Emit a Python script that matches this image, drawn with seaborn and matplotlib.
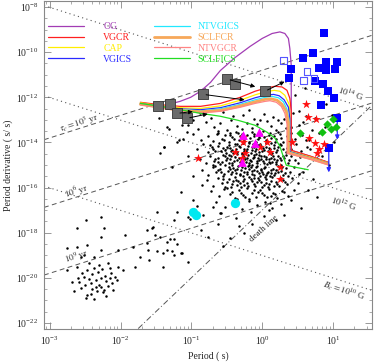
import numpy as np
import pandas as pd
import seaborn as sns
import matplotlib.pyplot as plt
from matplotlib.ticker import FixedLocator, LogLocator, LogFormatterMathtext, NullFormatter

sns.set_style("ticks")
plt.rcParams["font.family"] = ["Liberation Serif", "DejaVu Serif"]
plt.rcParams["mathtext.fontset"] = "stix"

# ---- model boundary curves, (log10 P, log10 Pdot) ----
og_lp = [-1.32, -1.16, -1.01, -0.87, -0.73, -0.59, -0.38, -0.17, 0.00, 0.14, 0.25, 0.32, 0.37, 0.39, 0.41, 0.41, 0.68, 0.93]
og_lpd = [-12.31, -12.18, -12.00, -11.73, -11.34, -10.81, -10.23, -9.74, -9.39, -9.17, -9.10, -9.17, -9.39, -9.83, -10.58, -14.35, -14.61, -14.88]

vgcr_lp = [-1.72, -1.44, -1.16, -0.87, -0.59, -0.31, -0.10, 0.04, 0.18, 0.28, 0.35, 0.39, 0.41, 0.41, 0.68, 0.93]
vgcr_lpd = [-12.22, -12.33, -12.40, -12.40, -12.27, -12.00, -11.73, -11.60, -11.51, -11.54, -11.69, -12.04, -12.58, -14.35, -14.61, -14.88]

cap_lp = [-1.72, -1.44, -1.16, -0.87, -0.59, -0.31, -0.10, 0.04, 0.17, 0.25, 0.32, 0.38, 0.39, 0.39, 0.68, 0.93]
cap_lpd = [-12.24, -12.38, -12.46, -12.49, -12.38, -12.13, -11.89, -11.76, -11.69, -11.73, -11.91, -12.31, -12.80, -14.39, -14.65, -14.90]

vgics_lp = [-1.72, -1.44, -1.16, -0.87, -0.59, -0.31, -0.10, 0.04, 0.16, 0.24, 0.31, 0.37, 0.39, 0.39, 0.68, 0.93]
vgics_lpd = [-12.27, -12.40, -12.51, -12.55, -12.46, -12.24, -12.02, -11.91, -11.87, -11.93, -12.11, -12.44, -12.93, -14.41, -14.68, -14.92]

ntvgics_lp = [-1.72, -1.44, -1.16, -0.87, -0.59, -0.31, -0.10, 0.04, 0.14, 0.23, 0.30, 0.35, 0.38, 0.38, 0.68, 0.93]
ntvgics_lpd = [-12.29, -12.42, -12.53, -12.60, -12.51, -12.31, -12.11, -12.00, -11.96, -12.02, -12.20, -12.53, -13.02, -14.43, -14.70, -14.94]

sclfcr_lp = [-1.72, -1.44, -1.16, -0.87, -0.59, -0.31, -0.10, 0.04, 0.13, 0.21, 0.28, 0.34, 0.37, 0.37, 0.68, 0.93]
sclfcr_lpd = [-12.31, -12.44, -12.58, -12.64, -12.58, -12.38, -12.20, -12.09, -12.07, -12.13, -12.31, -12.62, -13.11, -14.46, -14.72, -14.96]

ntvgcr_lp = [-1.72, -1.44, -1.16, -0.87, -0.59, -0.31, -0.10, 0.04, 0.11, 0.20, 0.27, 0.32, 0.35, 0.35, 0.68, 0.93]
ntvgcr_lpd = [-12.33, -12.46, -12.60, -12.69, -12.62, -12.44, -12.27, -12.18, -12.15, -12.22, -12.40, -12.71, -13.19, -14.48, -14.74, -14.99]

sclfics_lp = [-1.72, -1.44, -1.16, -0.87, -0.59, -0.34, -0.10, 0.07, 0.18, 0.25, 0.30, 0.34, 0.47, 0.65]
sclfics_lpd = [-12.27, -12.40, -12.55, -12.71, -12.84, -13.02, -13.24, -13.55, -13.81, -14.17, -14.65, -15.01, -15.10, -15.21]

# ---- pulsar population (log10 P, log10 Pdot) ----
psr_young = [(-1.45, -12.9), (-1.32, -13.4), (-1.25, -12.7), (-1.18, -13.9), (-1.38, -14.2), (-1.05, -14.6),
             (-1.28, -15.1), (-0.97, -15.5), (-1.15, -16.2), (-0.92, -16.8), (-1.02, -17.4), (-1.34, -13.33),
             (-1.13, -13.24), (-1.06, -13.55), (-1.39, -14.21), (-1.20, -13.99), (-1.44, -14.48),
             (-1.10, -12.62), (-0.88, -12.71), (-0.72, -12.93), (-0.55, -12.66), (-0.41, -12.85), (-0.27, -12.78),
             (-0.12, -12.97), (0.02, -12.74), (0.15, -12.88), (0.31, -12.95), (-0.98, -12.99), (-0.19, -12.58)]
psr_core1 = [(-1.05, -13.21), (-0.91, -13.42), (-0.80, -13.08), (-0.68, -13.33), (-0.59, -13.15), (-0.50, -13.46),
             (-0.44, -13.02), (-0.36, -13.27), (-0.29, -13.41), (-0.21, -13.12), (-0.14, -13.35), (-0.07, -13.19),
             (0.01, -13.48), (0.07, -13.06), (0.13, -13.29), (0.19, -13.44), (0.26, -13.13), (0.33, -13.38),
             (-0.62, -13.49), (-0.03, -13.01), (0.23, -13.02),
             (-0.98, -13.62), (-0.86, -13.88), (-0.77, -13.71), (-0.70, -13.95), (-0.63, -13.57), (-0.57, -13.83),
             (-0.52, -13.66), (-0.47, -13.97), (-0.42, -13.74), (-0.37, -13.52), (-0.33, -13.89), (-0.28, -13.63),
             (-0.24, -13.79), (-0.19, -13.98), (-0.15, -13.55), (-0.11, -13.72), (-0.06, -13.86), (-0.02, -13.61),
             (0.03, -13.77), (0.07, -13.93), (0.11, -13.58), (0.16, -13.70), (0.20, -13.85), (0.25, -13.64),
             (0.30, -13.96), (0.35, -13.73), (-0.45, -13.58), (-0.09, -13.99), (0.13, -13.81), (-0.31, -13.71),
             (-1.12, -13.85), (0.22, -13.52)]
psr_core2 = [(-0.92, -14.31), (-0.84, -14.08), (-0.76, -14.44), (-0.71, -14.19), (-0.66, -14.37), (-0.61, -14.03),
             (-0.56, -14.26), (-0.51, -14.48), (-0.47, -14.12), (-0.43, -14.33), (-0.39, -14.05), (-0.35, -14.41),
             (-0.31, -14.22), (-0.27, -14.01), (-0.23, -14.36), (-0.20, -14.17), (-0.16, -14.46), (-0.13, -14.09),
             (-0.09, -14.29), (-0.05, -14.43), (-0.01, -14.14), (0.03, -14.32), (0.06, -14.02), (0.10, -14.24),
             (0.14, -14.47), (0.17, -14.11), (0.21, -14.35), (0.25, -14.06), (0.29, -14.28), (0.33, -14.42),
             (-0.49, -14.21), (-0.29, -14.45), (-0.11, -14.19), (0.08, -14.39), (0.23, -14.18), (-0.37, -14.27),
             (-0.18, -14.04), (0.01, -14.23), (-0.58, -14.40), (-0.74, -14.12), (0.12, -14.03), (-0.06, -14.12),
             (-0.25, -14.27), (-0.44, -14.39),
             (-0.88, -14.72), (-0.79, -14.93), (-0.73, -14.58), (-0.68, -14.81), (-0.63, -14.67), (-0.59, -14.97),
             (-0.55, -14.54), (-0.51, -14.76), (-0.47, -14.89), (-0.44, -14.61), (-0.40, -14.83), (-0.36, -14.52),
             (-0.33, -14.71), (-0.30, -14.95), (-0.26, -14.64), (-0.23, -14.86), (-0.20, -14.55), (-0.17, -14.77),
             (-0.14, -14.98), (-0.11, -14.63), (-0.08, -14.82), (-0.04, -14.57), (-0.01, -14.74), (0.02, -14.91),
             (0.05, -14.66), (0.09, -14.85), (0.12, -14.53), (0.16, -14.72), (0.19, -14.94), (0.23, -14.61),
             (0.27, -14.80), (0.31, -14.69), (-0.42, -14.99), (-0.28, -14.51), (-0.13, -14.70), (0.03, -14.59),
             (0.14, -14.88), (-0.52, -14.62), (-0.35, -14.78), (-0.19, -14.91), (-0.06, -14.68), (0.21, -14.79),
             (0.07, -14.97), (-0.62, -14.87), (-0.24, -14.73), (-0.09, -14.53), (-0.45, -14.74), (0.26, -14.99),
             (-0.70, -14.99), (0.10, -14.75)]
psr_core3 = [(-0.85, -15.21), (-0.76, -15.44), (-0.70, -15.08), (-0.65, -15.33), (-0.60, -15.17), (-0.56, -15.47),
             (-0.52, -15.02), (-0.48, -15.28), (-0.44, -15.41), (-0.41, -15.12), (-0.37, -15.36), (-0.34, -15.05),
             (-0.30, -15.23), (-0.27, -15.49), (-0.24, -15.14), (-0.21, -15.31), (-0.18, -15.01), (-0.15, -15.26),
             (-0.12, -15.45), (-0.09, -15.11), (-0.05, -15.34), (-0.02, -15.19), (0.01, -15.42), (0.04, -15.07),
             (0.08, -15.29), (0.11, -15.48), (0.15, -15.16), (0.18, -15.37), (0.22, -15.03), (0.26, -15.25),
             (0.30, -15.43), (0.34, -15.13), (0.39, -15.32), (0.45, -15.09), (0.52, -15.40), (-0.46, -15.19),
             (-0.32, -15.38), (-0.16, -15.08), (-0.01, -15.24), (0.13, -15.35), (-0.58, -15.31), (-0.39, -15.24),
             (-0.22, -15.42), (-0.07, -15.04), (0.06, -15.44), (0.20, -15.21), (-0.28, -15.09), (0.36, -15.47),
             (-0.11, -15.22), (-0.66, -15.03),
             (-0.78, -15.68), (-0.69, -15.91), (-0.62, -15.57), (-0.57, -15.79), (-0.52, -15.96), (-0.47, -15.63),
             (-0.43, -15.85), (-0.38, -15.54), (-0.34, -15.73), (-0.30, -15.98), (-0.26, -15.61), (-0.22, -15.82),
             (-0.18, -15.52), (-0.14, -15.71), (-0.10, -15.93), (-0.06, -15.59), (-0.02, -15.77), (0.02, -15.89),
             (0.06, -15.64), (0.10, -15.83), (0.14, -15.55), (0.19, -15.74), (0.24, -15.95), (0.29, -15.66),
             (0.35, -15.86), (0.42, -15.58), (0.50, -15.80), (-0.41, -15.70), (-0.25, -15.90), (-0.08, -15.75),
             (0.08, -15.97), (-0.55, -15.62), (-0.12, -15.56), (0.17, -15.91), (-0.35, -15.88), (0.04, -15.52)]
psr_core4 = [(-0.72, -16.15), (-0.61, -16.38), (-0.54, -16.07), (-0.46, -16.29), (-0.39, -16.45), (-0.33, -16.11),
             (-0.27, -16.33), (-0.21, -16.02), (-0.15, -16.24), (-0.09, -16.41), (-0.03, -16.13), (0.03, -16.31),
             (0.09, -16.05), (0.15, -16.22), (0.21, -16.47), (0.28, -16.16), (0.36, -16.36), (0.45, -16.09),
             (-0.49, -16.02), (-0.18, -16.49), (0.12, -16.39), (-0.06, -16.20),
             (-0.65, -16.62), (-0.52, -16.88), (-0.41, -16.71), (-0.29, -16.94), (-0.19, -16.58), (-0.08, -16.79),
             (0.04, -16.66), (0.14, -16.91), (0.27, -16.74), (0.40, -16.55), (-0.35, -16.52), (0.09, -16.99),
             (-0.58, -17.12), (-0.37, -17.35), (-0.16, -17.08), (0.02, -17.27), (0.19, -17.44), (-0.84, -17.22)]
psr_core5 = [(-0.64, -13.62), (-0.54, -13.91), (-0.46, -13.69), (-0.40, -13.86), (-0.34, -13.60), (-0.26, -13.93),
             (-0.22, -13.67), (-0.17, -13.82), (-0.12, -13.64), (-0.04, -13.76), (0.05, -13.88), (0.09, -13.66),
             (0.18, -13.97), (0.27, -13.80), (0.38, -13.90), (-0.69, -14.27), (-0.63, -14.14), (-0.53, -14.35),
             (-0.45, -14.25), (-0.41, -14.46), (-0.33, -14.15), (-0.26, -14.39), (-0.21, -14.28), (-0.14, -14.21),
             (-0.10, -14.40), (-0.03, -14.07), (0.00, -14.37), (0.05, -14.18), (0.11, -14.31), (0.16, -14.26),
             (0.19, -14.44), (0.27, -14.13), (0.35, -14.24), (-0.36, -14.09), (-0.15, -14.33),
             (-0.66, -14.74), (-0.57, -14.85), (-0.49, -14.68), (-0.43, -14.92), (-0.38, -14.66), (-0.32, -14.88),
             (-0.27, -14.57), (-0.22, -14.69), (-0.16, -14.84), (-0.12, -14.56), (-0.07, -14.93), (-0.02, -14.62),
             (0.01, -14.83), (0.06, -14.73), (0.11, -14.93), (0.15, -14.60), (0.20, -14.87), (0.25, -14.70),
             (0.29, -14.58), (0.38, -14.80), (-0.47, -14.56), (-0.29, -14.81), (-0.05, -14.79), (0.13, -14.68),
             (-0.62, -15.23), (-0.54, -15.38), (-0.47, -15.10), (-0.42, -15.32), (-0.36, -15.18), (-0.31, -15.44),
             (-0.25, -15.30), (-0.19, -15.17), (-0.14, -15.38), (-0.08, -15.27), (-0.03, -15.47), (0.02, -15.14),
             (0.07, -15.36), (0.12, -15.24), (0.17, -15.45), (0.23, -15.33), (0.28, -15.10), (0.32, -15.36),
             (-0.20, -15.05), (0.00, -15.31), (-0.50, -15.74), (-0.44, -15.97), (-0.37, -15.65), (-0.32, -15.80),
             (-0.27, -15.73), (-0.20, -15.95), (-0.16, -15.63), (-0.11, -15.84), (-0.04, -15.68), (0.00, -15.98),
             (0.05, -15.79), (0.12, -15.70), (0.21, -15.86), (0.26, -15.57), (0.32, -15.75), (-0.42, -16.18),
             (-0.30, -16.24), (-0.24, -16.40), (-0.12, -16.12), (0.00, -16.22), (0.07, -16.44), (0.18, -16.30),
             (0.31, -16.20)]
psr_longp = [(0.46, -11.9), (0.52, -12.6), (0.58, -13.1), (0.62, -13.9), (0.68, -14.3), (0.74, -12.9),
             (0.80, -13.6), (0.85, -14.6), (0.90, -12.3), (0.95, -15.0), (0.50, -14.9), (0.57, -15.3),
             (0.72, -15.6), (0.88, -13.3), (1.02, -14.0), (0.64, -16.1), (0.78, -16.4), (0.55, -16.9),
             (0.60, -11.6), (0.98, -12.8), (0.40, -13.31), (0.47, -13.84), (0.56, -13.67), (0.66, -13.91),
             (0.41, -14.31), (0.48, -14.07), (0.55, -14.38), (0.63, -14.21), (0.45, -14.46), (0.36, -14.92),
             (0.41, -14.58), (0.47, -14.78), (0.53, -14.65), (0.33, -14.56), (0.44, -12.69), (0.62, -12.81),
             (0.52, -13.22), (0.71, -13.45), (0.41, -13.59)]
psr_sparse = [(-0.85, -15.9), (-0.97, -16.56), (-0.69, -16.87), (-0.59, -17.13), (-0.45, -18.24), (-0.87, -17.88),
              (-0.77, -18.19), (0.11, -16.69), (-1.13, -18.9), (-0.62, -17.6), (-0.33, -17.7), (-1.05, -17.3),
              (-0.25, -18.0), (-0.55, -18.6), (-1.30, -18.3), (-1.20, -17.1), (0.31, -17.2), (-0.15, -17.6),
              (-1.55, -17.8), (-1.52, -18.1), (-1.48, -18.8), (-1.40, -18.9), (-1.40, -19.5), (-1.27, -18.8),
              (-1.25, -18.3), (-1.20, -18.5), (-1.15, -18.9), (-1.35, -18.4), (-1.60, -19.2), (-1.05, -19.3)]
psr_msp = [(-2.75, -19.65), (-2.61, -19.52), (-2.47, -19.65), (-2.32, -19.74), (-2.52, -19.96), (-2.28, -20.01),
           (-2.42, -20.23), (-2.56, -20.45), (-2.28, -20.41), (-2.47, -20.76), (-2.24, -20.54), (-2.68, -20.19),
           (-2.14, -19.79), (-2.17, -19.35), (-2.38, -19.08), (-2.56, -19.08), (-2.75, -18.68), (-2.61, -18.64),
           (-2.47, -18.55), (-2.28, -18.77), (-2.04, -18.77), (-1.82, -18.64), (-1.62, -18.46), (-1.44, -18.19),
           (-1.54, -17.75), (-1.62, -17.88), (-1.25, -17.44), (-1.48, -17.09), (-2.04, -19.52), (-1.96, -19.65),
           (-2.10, -20.54), (-2.49, -20.89), (-2.52, -18.99), (-2.24, -17.80), (-1.93, -18.11), (-2.28, -18.19),
           (-2.61, -17.80), (-2.49, -17.44), (-2.28, -17.31), (-1.79, -19.52), (-1.72, -19.08), (-1.61, -18.77),
           (-1.34, -18.77), (-1.25, -18.99), (-2.40, -19.85), (-2.35, -20.10), (-2.20, -20.15), (-2.30, -20.30),
           (-2.45, -20.05), (-2.22, -19.90), (-2.18, -20.35), (-2.33, -20.60), (-2.40, -20.48), (-2.15, -20.02),
           (-2.26, -19.60), (-2.12, -20.25), (-2.37, -19.55), (-2.50, -20.30), (-2.05, -20.12), (-2.60, -20.00),
           (-2.42, -20.70), (-2.20, -20.80), (-2.30, -19.45), (-2.08, -19.95), (-2.65, -20.60), (-2.55, -19.80),
           (-2.35, -20.40), (-2.25, -20.65), (-2.45, -19.35), (-2.15, -19.55), (-2.38, -20.95), (-2.58, -20.20)]

# ---- special sources (log10 P, log10 Pdot) ----
gray_lp = [-1.47, -1.30, -1.20, -1.06, -0.83, -0.49, -0.39, 0.04]
gray_lpd = [-12.40, -12.31, -12.71, -12.93, -11.87, -11.20, -11.42, -11.73]

mag_lp = [0.87, 0.72, 0.58, 0.90, 1.06, 0.80, 0.90, 1.03, 0.41, 0.38, 0.75, 0.86, 0.93, 1.01, 0.83, 1.06, 0.94]
mag_lpd = [-9.17, -10.05, -10.27, -10.45, -10.45, -10.72, -10.81, -10.76, -10.76, -11.16, -11.29, -11.42, -11.73, -12.04, -12.35, -12.93, -14.26]
mag_open_lp = [0.30, 0.63, 0.58, 0.73]
mag_open_lpd = [-10.36, -10.85, -11.25, -11.16]
# upper limits: (log P, start log Pdot, end log Pdot)
ulim_lp = [1.06, 0.94]
ulim_from = [-12.93, -14.26]
ulim_to = [-14.00, -15.45]

star_lp = [0.62, 0.65, 0.76, 0.66, 0.75, 0.87, 0.80, 0.78, 0.42, -0.27, 0.07, -0.03, 0.11, -0.39, -0.24, -0.28, -0.90, 0.25, 0.25, -0.27]
star_lpd = [-12.31, -12.88, -12.97, -13.81, -14.04, -14.08, -14.30, -14.48, -13.99, -13.77, -13.99, -14.21, -14.43, -14.43, -14.48, -14.70, -14.70, -15.10, -15.63, -13.99]

tri_lp = [-0.27, -0.04, -0.10, -0.28]
tri_lpd = [-13.68, -13.55, -14.04, -14.88]

dia_lp = [0.54, 0.85, 0.92, 1.00, 1.04, 0.97]
dia_lpd = [-13.59, -13.55, -13.19, -12.97, -13.33, -13.42]

circ_lp = [-0.38, -0.97, -0.94]
circ_lpd = [-16.69, -17.09, -17.22]

# evolution arrows between gray squares (log P0, log Pdot0, log P1, log Pdot1)
arr_p0 = [-0.49, 0.04, -0.83, -1.06, -1.20]
arr_pd0 = [-11.20, -11.73, -11.87, -12.93, -12.71]
arr_p1 = [-0.06, 0.35, -0.21, -0.73, -0.94]
arr_pd1 = [-11.56, -11.25, -12.13, -12.71, -12.62]

ages_yr = [1e3, 1e6, 1e9]
bfields = [1e14, 1e12, 1e10]

fig = plt.figure(figsize=(3.74, 3.63), dpi=100)
ax = fig.add_axes([44 / 374, 34 / 363, 328 / 374, 328 / 363])
ax.set_xscale("log")
ax.set_yscale("log")
xlo, xhi = 10 ** -3.08, 10 ** 1.55
ylo, yhi = 10 ** -22.27, 10 ** -7.73

# reference lines
pp = np.array([xlo, xhi])
ref_color = "#555555"
for tau in ages_yr:
    ax.plot(pp, pp / (2 * tau * 3.156e7), ls=(0, (5, 3.5)), color=ref_color, lw=0.7)
for b in bfields:
    ax.plot(pp, (b / 3.2e19) ** 2 / pp, ls=(0, (1, 3)), color=ref_color, lw=0.8)
pd_line = np.array([10 ** -1.75, xhi])
ax.plot(pd_line, 1e-17 * pd_line ** 3, ls=(0, (6, 2.5, 1, 2.5)), color=ref_color, lw=0.7)

# pulsars
psr = pd.DataFrame(psr_young + psr_core1 + psr_core2 + psr_core3 + psr_core4 + psr_core5
                   + psr_longp + psr_sparse + psr_msp, columns=["lp", "lpd"])
sns.scatterplot(x=10 ** psr.lp, y=10 ** psr.lpd, s=3.2, color="black", linewidth=0, ax=ax, legend=False, zorder=2)

# model curves
curves = [
    ("OG", og_lp, og_lpd, "#a23cb4", 0.9),
    ("VGCR", vgcr_lp, vgcr_lpd, "#ff2020", 0.9),
    ("CAP", cap_lp, cap_lpd, "#ffee00", 0.9),
    ("VGICS", vgics_lp, vgics_lpd, "#2a2aff", 0.9),
    ("NTVGICS", ntvgics_lp, ntvgics_lpd, "#22e8ff", 0.9),
    ("SCLFCR", sclfcr_lp, sclfcr_lpd, "#f7a85a", 2.0),
    ("NTVGCR", ntvgcr_lp, ntvgcr_lpd, "#ff8484", 0.9),
    ("SCLFICS", sclfics_lp, sclfics_lpd, "#22dd22", 0.9),
]
for name, lp, lpd, col, lw in curves:
    sns.lineplot(x=10 ** np.array(lp), y=10 ** np.array(lpd), sort=False, estimator=None,
                 color=col, lw=lw, label=name, ax=ax, zorder=3)

# special sources
sns.scatterplot(x=10 ** np.array(gray_lp), y=10 ** np.array(gray_lpd), marker="s", s=48,
                color="#6a6a6a", edgecolor="#333333", linewidth=0.6, ax=ax, legend=False, zorder=5)
for p0, d0, p1, d1 in zip(arr_p0, arr_pd0, arr_p1, arr_pd1):
    ax.annotate("", xy=(10 ** p1, 10 ** d1), xytext=(10 ** p0, 10 ** d0),
                arrowprops=dict(arrowstyle="-|>", color="black", lw=0.7, mutation_scale=6), zorder=6)
sns.scatterplot(x=10 ** np.array(mag_lp), y=10 ** np.array(mag_lpd), marker="s", s=26,
                color="#0000ff", linewidth=0, ax=ax, legend=False, zorder=5)
sns.scatterplot(x=10 ** np.array(mag_open_lp), y=10 ** np.array(mag_open_lpd), marker="s", s=22,
                facecolor="none", edgecolor="#5555ff", linewidth=0.8, ax=ax, legend=False, zorder=5)
for lp, a, b in zip(ulim_lp, ulim_from, ulim_to):
    ax.annotate("", xy=(10 ** lp, 10 ** b), xytext=(10 ** lp, 10 ** a),
                arrowprops=dict(arrowstyle="-|>", color="#2a2aff", lw=0.9, mutation_scale=6), zorder=4)
sns.scatterplot(x=10 ** np.array(star_lp), y=10 ** np.array(star_lpd), marker="*", s=45,
                color="#ff1010", linewidth=0, ax=ax, legend=False, zorder=5)
sns.scatterplot(x=10 ** np.array(tri_lp), y=10 ** np.array(tri_lpd), marker="^", s=40,
                color="#ff00ff", linewidth=0, ax=ax, legend=False, zorder=5)
sns.scatterplot(x=10 ** np.array(dia_lp), y=10 ** np.array(dia_lpd), marker="D", s=18,
                color="#10c010", linewidth=0, ax=ax, legend=False, zorder=5)
sns.scatterplot(x=10 ** np.array(circ_lp), y=10 ** np.array(circ_lpd), marker="o", s=45,
                color="#00e8f0", linewidth=0, ax=ax, legend=False, zorder=5)

# line labels
fs = 6.5
ax.text(10 ** -2.59, 10 ** -13.15, r"$\tau_c = 10^3$ yr", rotation=17.7, ha="center", va="center", fontsize=fs)
ax.text(10 ** -2.62, 10 ** -16.16, r"$10^6$ yr", rotation=17.7, ha="center", va="center", fontsize=fs)
ax.text(10 ** -2.62, 10 ** -19.08, r"$10^9$ yr", rotation=17.7, ha="center", va="center", fontsize=fs)
ax.text(10 ** 1.24, 10 ** -11.87, r"$10^{14}$ G", rotation=-17.7, ha="center", va="center", fontsize=fs)
ax.text(10 ** 1.14, 10 ** -16.73, r"$10^{12}$ G", rotation=-17.7, ha="center", va="center", fontsize=fs)
ax.text(10 ** 1.155, 10 ** -20.58, r"$B_c = 10^{10}$ G", rotation=-17.7, ha="center", va="center", fontsize=fs)
ax.text(10 ** 0.03, 10 ** -17.84, "death line", rotation=42, ha="center", va="center", fontsize=fs)

# legend in two columns
handles, labels = ax.get_legend_handles_labels()
leg1 = ax.legend(handles[:4], labels[:4], loc="upper left", bbox_to_anchor=(0.012, 0.935), frameon=False,
                 fontsize=7, handlelength=3.7, handletextpad=2.0, labelspacing=0.18, borderaxespad=0,
                 borderpad=0, labelcolor="linecolor")
ax.add_artist(leg1)
ax.legend(handles[4:], labels[4:], loc="upper left", bbox_to_anchor=(0.335, 0.935), frameon=False,
          fontsize=7, handlelength=3.7, handletextpad=0.8, labelspacing=0.18, borderaxespad=0,
          borderpad=0, labelcolor="linecolor")

ax.set_xlim(xlo, xhi)
ax.set_ylim(ylo, yhi)
ax.xaxis.set_major_locator(FixedLocator([1e-3, 1e-2, 1e-1, 1e0, 1e1]))
ax.xaxis.set_minor_locator(LogLocator(base=10, subs=np.arange(2, 10), numticks=20))
ax.xaxis.set_major_formatter(LogFormatterMathtext())
ax.xaxis.set_minor_formatter(NullFormatter())
ax.yaxis.set_major_locator(FixedLocator([10.0 ** k for k in range(-22, -7, 2)]))
ax.yaxis.set_minor_locator(FixedLocator([10.0 ** (k / 2) for k in range(-45, -15)]))
ax.yaxis.set_major_formatter(LogFormatterMathtext())
ax.yaxis.set_minor_formatter(NullFormatter())
ax.tick_params(which="both", direction="in", top=True, right=True, color="#888888", labelsize=7, pad=4)
ax.tick_params(which="major", length=5, width=0.6)
ax.tick_params(which="minor", length=2.5, width=0.5)
for sp in ax.spines.values():
    sp.set_color("#888888")
    sp.set_linewidth(0.8)
ax.set_xlabel("Period ( s)", fontsize=7, labelpad=3)
ax.set_ylabel("Period derivative ( s/ s)", fontsize=7, labelpad=2)

fig.savefig("out.png", dpi=100)
